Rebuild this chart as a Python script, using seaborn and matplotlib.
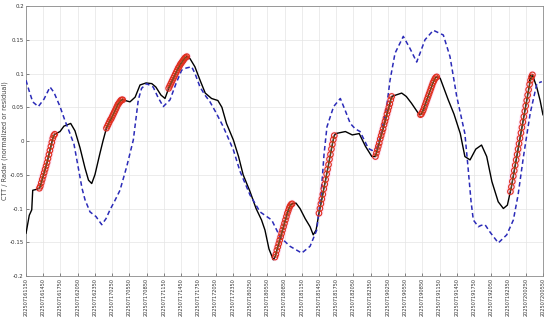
import numpy as np
import pandas as pd
import matplotlib
matplotlib.use("Agg")
import matplotlib.pyplot as plt
import seaborn as sns

# ---- data (hours since 2025-07-16 11:50) ----
tick_labels = ["202507161150", "202507161450", "202507161750", "202507162050", "202507162350",
               "202507170250", "202507170550", "202507170850", "202507171150", "202507171450",
               "202507171750", "202507172050", "202507172350", "202507180250", "202507180550",
               "202507180850", "202507181150", "202507181450", "202507181750", "202507182050",
               "202507182350", "202507190250", "202507190550", "202507190850", "202507191150",
               "202507191450", "202507191750", "202507192050", "202507192350", "202507200250",
               "202507200550"]

# black solid line key points (outside the marked segments)
black_t = [0.0, 0.57, 1.0, 1.17, 1.86, 5.92, 6.6, 7.78, 8.53, 9.4, 10.27, 10.88, 11.44, 12.0,
           12.88, 13.4, 18.1, 19.0, 19.85, 20.9, 21.9, 22.6, 23.5, 24.2, 28.55, 29.4, 30.3,
           31.2, 32.3, 33.4, 34.1, 34.9, 36.1, 37.0, 37.8, 39.0, 40.05, 41.0, 41.6, 42.3, 43.05,
           47.0, 47.7, 48.6, 49.45, 50.0, 50.5, 53.9, 55.6, 56.8, 58.0, 59.1, 60.2, 65.4, 66.2,
           67.1, 68.3, 72.1, 73.5, 74.5, 75.6, 76.4, 77.3, 78.3, 79.3, 80.2, 81.1, 82.2, 83.1,
           83.8, 87.7, 88.9, 89.5, 90.0]
black_v = [-0.137, -0.110, -0.102, -0.073, -0.0716, 0.014, 0.022, 0.026, 0.015, -0.010, -0.040,
           -0.058, -0.063, -0.050, -0.018, 0.000, 0.058, 0.065, 0.083, 0.086, 0.085, 0.080, 0.068,
           0.063, 0.122, 0.110, 0.090, 0.071, 0.063, 0.060, 0.050, 0.026, 0.0015, -0.023, -0.050,
           -0.075, -0.100, -0.117, -0.132, -0.160, -0.176, -0.092, -0.100, -0.115, -0.127, -0.139,
           -0.132, 0.011, 0.014, 0.009, 0.011, -0.008, -0.023, 0.071, 0.066, 0.056, 0.041, 0.093,
           0.061, 0.040, 0.011, -0.023, -0.028, -0.012, -0.006, -0.023, -0.060, -0.090, -0.100,
           -0.095, 0.098, 0.080, 0.060, 0.0385]

# marked (circle) segments, 10-minute samples
seg_start = [2.33, 14.0, 24.83, 43.33, 51.0, 60.83, 68.67, 84.33]
seg1 = [-0.070, -0.067, -0.062, -0.057, -0.052, -0.047, -0.042, -0.037, -0.032, -0.026, -0.020,
        -0.014, -0.008, -0.002, 0.004, 0.008, 0.010]
seg2 = [0.019, 0.022, 0.025, 0.028, 0.031, 0.033, 0.036, 0.039, 0.042, 0.045, 0.048, 0.051,
        0.054, 0.056, 0.058, 0.060, 0.061, 0.061]
seg3 = [0.078, 0.081, 0.084, 0.087, 0.090, 0.093, 0.096, 0.099, 0.102, 0.105, 0.108, 0.110,
        0.113, 0.115, 0.117, 0.119, 0.121, 0.123, 0.124, 0.125]
seg4 = [-0.172, -0.168, -0.162, -0.157, -0.152, -0.147, -0.142, -0.137, -0.132, -0.127, -0.122,
        -0.117, -0.112, -0.107, -0.103, -0.099, -0.096, -0.094, -0.093]
seg5 = [-0.107, -0.100, -0.093, -0.086, -0.079, -0.071, -0.064, -0.057, -0.049, -0.042, -0.035,
        -0.027, -0.020, -0.012, -0.005, 0.002, 0.008]
seg6 = [-0.023, -0.018, -0.013, -0.008, -0.003, 0.003, 0.008, 0.013, 0.018, 0.024, 0.029, 0.034,
        0.040, 0.045, 0.050, 0.055, 0.061, 0.066]
seg7 = [0.039, 0.040, 0.043, 0.046, 0.050, 0.054, 0.058, 0.062, 0.066, 0.070, 0.074, 0.078,
        0.082, 0.086, 0.089, 0.092, 0.094, 0.095]
seg8 = [-0.075, -0.068, -0.060, -0.052, -0.044, -0.036, -0.028, -0.020, -0.012, -0.004, 0.004,
        0.012, 0.020, 0.028, 0.036, 0.044, 0.052, 0.060, 0.068, 0.076, 0.084, 0.090, 0.095, 0.098]

# blue dashed line
blue_t = [0.0, 0.52, 1.17, 2.14, 3.13, 4.18, 4.87, 5.92, 6.79, 7.66, 8.36, 9.11, 9.75, 10.27,
          11.14, 12.19, 13.19, 13.93, 14.62, 15.49, 16.36, 17.53, 18.68, 19.55, 20.12, 20.99,
          22.14, 22.96, 23.9, 25.07, 26.11, 27.1, 27.85, 28.84, 29.42, 30.29, 31.16, 32.03,
          33.08, 34.35, 36.09, 37.26, 39.0, 40.74, 42.77, 44.22, 45.96, 48.0, 49.45, 50.61,
          51.36, 51.88, 52.39, 53.55, 54.72, 55.58, 56.45, 57.32, 58.15, 59.6, 60.24, 61.06,
          61.8, 62.79, 63.37, 64.24, 65.68, 66.85, 68.01, 68.59, 69.46, 70.91, 72.65, 73.81,
          74.98, 76.4, 76.96, 77.48, 77.87, 78.75, 79.22, 79.91, 80.78, 82.22, 83.69, 84.84,
          85.66, 86.6, 87.77, 88.93, 89.8]
blue_v = [0.090, 0.075, 0.058, 0.051, 0.062, 0.080, 0.072, 0.051, 0.030, 0.011, -0.005, -0.040,
          -0.070, -0.087, -0.105, -0.112, -0.124, -0.115, -0.102, -0.088, -0.073, -0.038, 0.0015,
          0.061, 0.078, 0.085, 0.080, 0.065, 0.051, 0.061, 0.085, 0.105, 0.108, 0.110, 0.100,
          0.080, 0.068, 0.058, 0.042, 0.021, -0.013, -0.045, -0.080, -0.105, -0.117, -0.142,
          -0.156, -0.166, -0.156, -0.132, -0.080, -0.020, 0.021, 0.051, 0.063, 0.045, 0.026,
          0.018, 0.014, -0.011, -0.014, -0.011, 0.010, 0.051, 0.090, 0.130, 0.155, 0.137, 0.117,
          0.130, 0.150, 0.164, 0.157, 0.125, 0.066, 0.011, -0.040, -0.090, -0.117, -0.127,
          -0.125, -0.124, -0.135, -0.151, -0.139, -0.117, -0.080, -0.023, 0.041, 0.085, 0.088]

# ---- build tables ----
segs = [seg1, seg2, seg3, seg4, seg5, seg6, seg7, seg8]
mk_rows = []
for k, (s, vals) in enumerate(zip(seg_start, segs)):
    for i, v in enumerate(vals):
        mk_rows.append((s + i / 6.0, v, k))
mk = pd.DataFrame(mk_rows, columns=["t", "v", "seg"])
blk = pd.concat([pd.DataFrame({"t": black_t, "v": black_v}), mk[["t", "v"]]]).sort_values("t")
blu = pd.DataFrame({"t": blue_t, "v": blue_v})

sns.set_style("whitegrid")
plt.rcParams["font.family"] = ["DejaVu Sans"]

fig = plt.figure(figsize=(5.5, 3.2), dpi=100)
ax = fig.add_axes([26 / 550, 1 - 276 / 320, (543 - 26) / 550, 270 / 320])

# faint pink halo behind the marked segments
sns.lineplot(data=mk, x="t", y="v", ax=ax, color="#fbc8ef", linewidth=6, alpha=0.5,
             sort=False, estimator=None, units="seg", zorder=1)
sns.lineplot(data=blk, x="t", y="v", ax=ax, color="black", linewidth=1.0, sort=False,
             estimator=None, zorder=3)
sns.lineplot(data=blu, x="t", y="v", ax=ax, color="#2b2bb8", linewidth=1.1,
             linestyle=(0, (3, 2)), sort=False, estimator=None, zorder=4)
sns.scatterplot(data=mk, x="t", y="v", ax=ax, marker="o", s=16, facecolor="none",
                edgecolor="#e0301e", linewidth=0.8, zorder=5)
sns.lineplot(data=mk, x="t", y="v", ax=ax, color="#6b5a1e", linewidth=0.6, sort=False,
             estimator=None, units="seg", zorder=6)

ax.set_xlim(0, 90)
ax.set_ylim(-0.2, 0.2)
ax.set_xticks(np.arange(0, 91, 3))
ax.set_xticklabels(tick_labels, rotation=90, fontsize=3.6, color="#333333")
ax.set_yticks(np.arange(-0.2, 0.201, 0.05))
ax.set_yticklabels(["-0.2", "-0.15", "-0.1", "-0.05", "0", "0.05", "0.1", "0.15", "0.2"],
                   fontsize=4.0, color="#333333")
ax.set_xlabel("")
ax.set_ylabel("CTT / Radar (normalized or residual)", fontsize=4.7, color="#444444", labelpad=1.5)
ax.tick_params(axis="both", length=2, width=0.5, pad=1.5, color="#555555", direction="in")
ax.tick_params(axis="x", bottom=True)
ax.tick_params(axis="y", left=True)
ax.grid(True, color="#e4e4e4", linewidth=0.5)
for sp in ax.spines.values():
    sp.set_color("#8a8a8a")
    sp.set_linewidth(0.6)

fig.savefig("out.png", dpi=100)
